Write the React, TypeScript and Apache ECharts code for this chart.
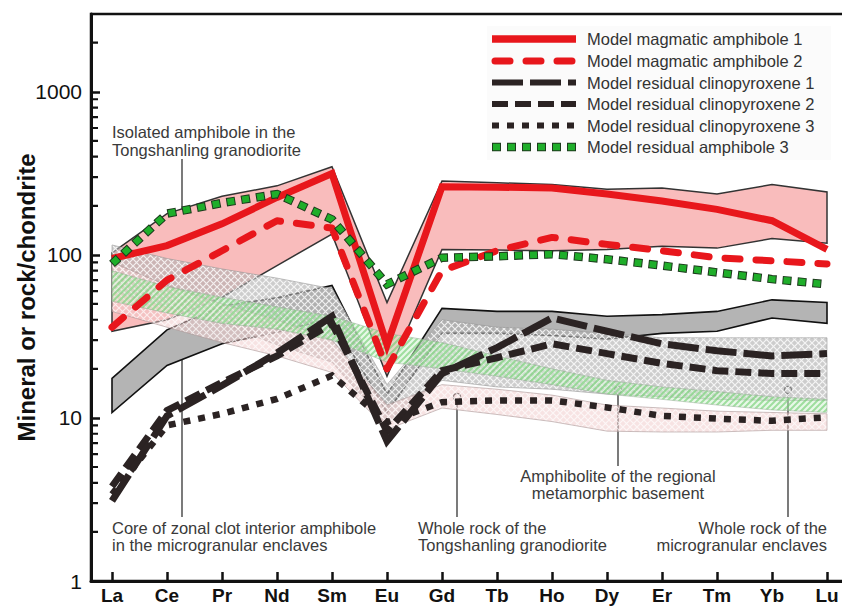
import React, { useEffect, useRef } from 'react';
import * as echarts from 'echarts';

const elements = ['La', 'Ce', 'Pr', 'Nd', 'Sm', 'Eu', 'Gd', 'Tb', 'Ho', 'Dy', 'Er', 'Tm', 'Yb', 'Lu'];
const yTickValues = [1, 10, 100, 1000];
const yMinorTickValues = [2, 3, 4, 5, 6, 7, 8, 9, 20, 30, 40, 50, 60, 70, 80, 90, 200, 300, 400, 500, 600, 700, 800, 900, 2000];

// model curves
const magAmph1 = [95, 114, 155, 225, 315, 28, 262, 260, 257, 236, 214, 190, 162, 108];
const magAmph2 = [36, 70, 106, 162, 146, 20, 80, 106, 128, 116, 106, 96, 92, 88];
const resCpx1 = [3.1, 10.3, 15.8, 25, 42, 7.2, 18.7, 27, 41, 34, 28.5, 25.8, 24, 24.8];
const resCpx2 = [3.8, 11.1, 16.5, 24, 38, 8.3, 19.5, 23.4, 28.5, 24.8, 21.6, 19.5, 18.7, 18.7];
const resCpx3 = [3.4, 9.0, 10.6, 13.1, 18.2, 9.4, 12.5, 12.8, 12.8, 11.6, 10.3, 9.9, 9.6, 10.1];
const resAmph3 = [88, 179, 208, 236, 165, 66, 96, 98, 101, 94, 86, 78, 71, 66];

// fields (bands)
const isoAmphUpper = [103, 179, 229, 265, 347, 51, 284, 277, 270, 253, 257, 236, 270, 243];
const isoAmphLower = [34, 40, 55, 86, 134, 18, 108, 107, 106, 108, 113, 110, 126, 118];
const coreAmphUpper = [17.5, 34.7, 48.6, 54.5, 65, 14, 47, 45, 45, 42, 43, 45, 53, 51];
const coreAmphLower = [10.8, 21, 28.5, 33.5, 41, 10.8, 33, 33, 32, 30.5, 33, 34, 41, 38];
const mmeWrUpper = [115, 95, 82, 72, 62, 16, 40, 36, 35, 33, 31, 31, 31, 31];
const mmeWrLower = [60, 48, 38, 28, 22, 9, 17, 15.5, 15, 14, 13.5, 13, 12.8, 12.8];
const amphiboliteUpper = [80, 64, 55, 48, 42, 33, 29, 24, 20, 17, 15.5, 14.5, 13.5, 13];
const amphiboliteLower = [52, 44, 38, 35, 30, 22, 20, 18, 16, 14, 13, 12, 11.2, 10.8];
const tslWrUpper = [90, 65, 50, 40, 30, 12, 16, 15, 13.8, 12, 11.5, 11, 10.8, 10.6];
const tslWrLower = [45, 36, 29, 24, 19, 8.5, 11.5, 10.5, 9.5, 8.3, 8.2, 8.2, 8.4, 8.4];

const FONT = '"Liberation Sans", Arial, sans-serif';
const RED = '#e8171c';
const DARK = '#2b2323';
const GREEN = '#1fae2a';
const GREEN_EDGE = '#1d3a1d';

const CHART_W = 842;
const xMin = -21 / 55;
const xMax = 13 + 21 / 55;
const minorTickLen = 7 / 55; // in x-axis units

function makeCross(bg: string, line: string, size: number) {
  const c = document.createElement('canvas');
  c.width = size;
  c.height = size;
  const ctx = c.getContext('2d')!;
  ctx.fillStyle = bg;
  ctx.fillRect(0, 0, size, size);
  ctx.strokeStyle = line;
  ctx.lineWidth = 1.2;
  ctx.beginPath();
  ctx.moveTo(0, 0);
  ctx.lineTo(size, size);
  ctx.moveTo(size, 0);
  ctx.lineTo(0, size);
  ctx.stroke();
  return c;
}

function makeStripes(bg: string, line: string, size: number) {
  const c = document.createElement('canvas');
  c.width = size;
  c.height = size;
  const ctx = c.getContext('2d')!;
  ctx.fillStyle = bg;
  ctx.fillRect(0, 0, size, size);
  ctx.strokeStyle = line;
  ctx.lineWidth = 2;
  ctx.beginPath();
  ctx.moveTo(-1, size + 1);
  ctx.lineTo(size + 1, -1);
  ctx.moveTo(-2, 2);
  ctx.lineTo(2, -2);
  ctx.moveTo(size - 2, size + 2);
  ctx.lineTo(size + 2, size - 2);
  ctx.stroke();
  return c;
}

function pattern(c: HTMLCanvasElement) {
  return { image: c, repeat: 'repeat', imageWidth: c.width, imageHeight: c.height } as any;
}

function bandSeries(name: string, upper: number[], lower: number[], fill: any, stroke: string, lineWidth: number) {
  return {
    type: 'custom',
    name,
    coordinateSystem: 'cartesian2d',
    silent: true,
    data: [[0, upper[0]]],
    renderItem: (_params: any, api: any) => {
      const pts: number[][] = [];
      upper.forEach((v, i) => pts.push(api.coord([i, v])));
      for (let i = lower.length - 1; i >= 0; i--) pts.push(api.coord([i, lower[i]]));
      return {
        type: 'polygon',
        shape: { points: pts },
        style: { fill, stroke, lineWidth, lineJoin: 'miter' },
      };
    },
  };
}

function lineSeries(name: string, values: number[], lineStyle: any) {
  return {
    type: 'line',
    name,
    data: values.map((v, i) => [i, v]),
    symbol: 'none',
    silent: true,
    lineStyle,
  };
}

// minor ticks (2..9 per decade) as short segments of a gapped line series
function minorTickLineSeries() {
  const data: any[] = [];
  yMinorTickValues.forEach((v) => {
    data.push([xMin, v], [xMin + minorTickLen, v], ['-', '-']);
  });
  return {
    type: 'line',
    name: 'minor ticks',
    data,
    symbol: 'none',
    showSymbol: false,
    connectNulls: false,
    silent: true,
    clip: false,
    z: 20,
    lineStyle: { color: '#111', width: 2.2, cap: 'butt' },
  };
}

const TXT_SIZE = 16.5;

function annText(text: string, x: number, y: number, align: string) {
  return {
    type: 'text',
    x,
    y,
    silent: true,
    style: {
      text,
      fill: '#3a3a3a',
      fontSize: TXT_SIZE,
      fontFamily: FONT,
      textAlign: align,
      align,
      textVerticalAlign: 'middle',
      verticalAlign: 'middle',
    },
  };
}

function leader(x: number, y1: number, y2: number, cy: number) {
  return [
    { type: 'line', silent: true, shape: { x1: x, y1, x2: x, y2 }, style: { stroke: '#333', lineWidth: 1.3 } },
    { type: 'circle', silent: true, shape: { cx: x, cy, r: 3.6 }, style: { fill: '#fff', stroke: '#333', lineWidth: 1.3 } },
  ];
}

const legendRows = [
  { label: 'Model magmatic amphibole 1', y: 39 },
  { label: 'Model magmatic amphibole 2', y: 61 },
  { label: 'Model residual clinopyroxene 1', y: 82.5 },
  { label: 'Model residual clinopyroxene 2', y: 104 },
  { label: 'Model residual clinopyroxene 3', y: 125.5 },
  { label: 'Model residual amphibole 3', y: 147 },
];

function legendLine(y: number, style: any) {
  return { type: 'line', silent: true, shape: { x1: 492, y1: y, x2: 576, y2: y }, style };
}

export default function App() {
  const ref = useRef<HTMLDivElement>(null);
  useEffect(() => {
    const chart = echarts.init(ref.current!, null, { renderer: 'svg' });

    const grayCross = pattern(makeCross('rgba(175,175,175,0.62)', 'rgba(255,255,255,0.8)', 7));
    const pinkCross = pattern(makeCross('rgba(240,200,200,0.5)', 'rgba(255,255,255,0.7)', 7));
    const greenStripe = pattern(makeStripes('rgba(205,240,205,0.45)', 'rgba(110,205,110,0.6)', 6));

    const lsMag1 = { color: RED, width: 7, type: 'solid', cap: 'butt', join: 'miter' };
    const lsMag2 = { color: RED, width: 7, type: [15, 16], cap: 'round', join: 'round' };
    const lsCpx1 = { color: DARK, width: 7, type: [31, 7], cap: 'butt', join: 'miter' };
    const lsCpx2 = { color: DARK, width: 7, type: [16, 7], cap: 'butt', join: 'miter' };
    const lsCpx3 = { color: DARK, width: 6.5, type: [7, 8], cap: 'butt', join: 'miter' };
    const lsAmphEdge = { color: GREEN_EDGE, width: 8.5, type: [9, 6], cap: 'butt', join: 'miter' };
    const lsAmph = { color: GREEN, width: 6.5, type: [7, 8], dashOffset: 14, cap: 'butt', join: 'miter' };

    const graphics: any[] = [
      { type: 'rect', silent: true, z: -1, shape: { x: 487, y: 26, width: 344, height: 134 }, style: { fill: '#fbfbfb' } },
      legendLine(39, { stroke: RED, lineWidth: 7.5 }),
      legendLine(61, { stroke: RED, lineWidth: 7, lineDash: [15, 16], lineDashOffset: -3.5, lineCap: 'round' }),
      legendLine(82.5, { stroke: DARK, lineWidth: 6, lineDash: [31, 7] }),
      legendLine(104, { stroke: DARK, lineWidth: 6, lineDash: [16, 7] }),
      legendLine(125.5, { stroke: DARK, lineWidth: 6, lineDash: [7, 8] }),
      legendLine(147, { stroke: GREEN_EDGE, lineWidth: 8.5, lineDash: [9, 6] }),
      legendLine(147, { stroke: GREEN, lineWidth: 6.5, lineDash: [7, 8], lineDashOffset: 14 }),
      ...legendRows.map((r) => ({
        type: 'text',
        x: 587,
        y: r.y,
        silent: true,
        style: { text: r.label, fill: '#333', fontSize: TXT_SIZE, fontFamily: FONT, textVerticalAlign: 'middle', verticalAlign: 'middle' },
      })),
      annText('Isolated amphibole in the', 112, 132, 'left'),
      annText('Tongshanling granodiorite', 112, 150, 'left'),
      ...leader(182, 159, 246, 250),
      annText('Core of zonal clot interior amphibole', 112, 528, 'left'),
      annText('in the microgranular enclaves', 112, 545, 'left'),
      ...leader(182, 517, 347, 343),
      annText('Whole rock of the', 418, 528, 'left'),
      annText('Tongshanling granodiorite', 418, 545, 'left'),
      ...leader(457, 517, 401, 397),
      annText('Amphibolite of the regional', 618, 476, 'center'),
      annText('metamorphic basement', 618, 493, 'center'),
      ...leader(618, 466, 394, 390),
      annText('Whole rock of the', 827, 528, 'right'),
      annText('microgranular enclaves', 827, 545, 'right'),
      ...leader(788, 517, 394, 390),
    ];

    chart.setOption({
      animation: false,
      backgroundColor: '#fff',
      textStyle: { fontFamily: FONT },
      grid: {
        left: 91,
        top: 14,
        right: -6,
        bottom: 26,
        show: true,
        borderColor: '#111',
        borderWidth: 2.5,
        backgroundColor: 'transparent',
        containLabel: false,
        outerBoundsMode: 'none',
      },
      xAxis: {
        type: 'value',
        min: xMin,
        max: xMax,
        axisLine: { show: true, onZero: false, lineStyle: { color: '#111', width: 3 } },
        axisTick: {
          show: true,
          inside: true,
          length: 9,
          customValues: elements.map((_, i) => i),
          lineStyle: { color: '#111', width: 2.5 },
        },
        axisLabel: {
          customValues: elements.map((_, i) => i),
          formatter: (v: number) => elements[Math.round(v)] ?? '',
          fontSize: 19,
          fontWeight: 'bold',
          color: '#111',
          fontFamily: FONT,
          margin: 5,
        },
        splitLine: { show: false },
      },
      yAxis: {
        type: 'log',
        logBase: 10,
        min: 1,
        max: 3000,
        position: 'left',
        axisLine: { show: true, onZero: false, lineStyle: { color: '#111', width: 3 } },
        axisTick: { show: true, inside: true, length: 9, customValues: yTickValues, lineStyle: { color: '#111', width: 2.5 } },
        axisLabel: {
          customValues: yTickValues,
          formatter: (v: number) => String(Math.round(v)),
          fontSize: 21,
          color: '#111',
          fontFamily: FONT,
          margin: 9,
        },
        splitLine: { show: false },
        name: 'Mineral or rock/chondrite',
        nameLocation: 'middle',
        nameGap: 53,
        nameMoveOverlap: false,
        nameTextStyle: { fontSize: 24, fontWeight: 'bold', color: '#111', fontFamily: FONT },
      },
      series: [
        bandSeries('Isolated amphibole in the Tongshanling granodiorite', isoAmphUpper, isoAmphLower, '#f9bcbc', '#333', 1.5),
        bandSeries('Core of zonal clot interior amphibole in the microgranular enclaves', coreAmphUpper, coreAmphLower, '#b4b4b4', '#111', 1.6),
        bandSeries('Whole rock of the microgranular enclaves', mmeWrUpper, mmeWrLower, grayCross, 'rgba(150,150,150,0.6)', 1),
        bandSeries('Whole rock of the Tongshanling granodiorite', tslWrUpper, tslWrLower, pinkCross, 'rgba(170,150,150,0.6)', 1),
        bandSeries('Amphibolite of the regional metamorphic basement', amphiboliteUpper, amphiboliteLower, greenStripe, 'rgba(150,170,150,0.5)', 1),
        lineSeries('Model residual clinopyroxene 3', resCpx3, lsCpx3),
        lineSeries('Model residual clinopyroxene 2', resCpx2, lsCpx2),
        lineSeries('Model residual clinopyroxene 1', resCpx1, lsCpx1),
        lineSeries('Model magmatic amphibole 2', magAmph2, lsMag2),
        lineSeries('Model magmatic amphibole 1', magAmph1, lsMag1),
        lineSeries('Model residual amphibole 3 outline', resAmph3, lsAmphEdge),
        lineSeries('Model residual amphibole 3', resAmph3, lsAmph),
        minorTickLineSeries(),
      ],
      graphic: graphics,
    });

    return () => chart.dispose();
  }, []);
  return (
    <div
      ref={ref}
      style={{ position: 'absolute', left: 0, top: 0, width: CHART_W, height: 607, background: '#fff' }}
    />
  );
}
